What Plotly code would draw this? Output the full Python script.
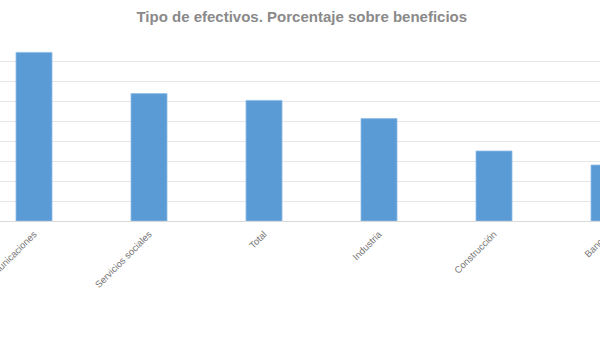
import plotly.graph_objects as go

categories = ["Información y comunicaciones", "Servicios sociales", "Total",
              "Industria", "Construcción", "Banca"]
values = [84.3, 63.7, 60.3, 51.2, 35.0, 28.0]

title_text = "Tipo de efectivos. Porcentaje sobre beneficios"

x_range = [-0.2957, 4.9217]
label_color = "#767676"
label_font = dict(family="Liberation Sans, Arial, sans-serif", size=9.5, color=label_color)

fig = go.Figure(go.Bar(
    x=categories, y=values,
    width=0.313,
    marker=dict(color="#5b9bd5", line=dict(color="#8dbbe6", width=0.8)),
))

# Last category's tick falls just past the visible range; draw its label as an annotation
last_idx = len(categories) - 1
last_paper_x = (last_idx - x_range[0]) / (x_range[1] - x_range[0])
fig.add_annotation(
    text=categories[last_idx], xref="paper", yref="paper",
    x=last_paper_x + 0.006, y=-0.045, xanchor="right", yanchor="top",
    textangle=-45, showarrow=False, font=label_font,
)

fig.update_layout(
    width=600, height=337,
    template="none",
    paper_bgcolor="white", plot_bgcolor="white",
    margin=dict(l=0, r=0, t=41, b=116, pad=0),
    showlegend=False,
    title=dict(text=title_text, x=0.503, xanchor="center", y=0.95, yanchor="middle",
               font=dict(family="Liberation Sans, Arial, sans-serif", size=15,
                         color="#8a8a8a", weight="bold")),
    font=dict(family="Liberation Sans, Arial, sans-serif", color=label_color),
)
fig.update_xaxes(
    range=x_range, tickangle=-45, automargin=False,
    tickfont=label_font, ticklabelstandoff=3,
    showgrid=False, zeroline=False, showline=True, linecolor="#d9d9d9", linewidth=1,
    ticks="",
)
fig.update_yaxes(
    range=[0, 90], dtick=10, automargin=False, showticklabels=False,
    showgrid=True, gridcolor="#e6e6e6", gridwidth=1, zeroline=False, ticks="",
)

fig.write_html("out.html")
